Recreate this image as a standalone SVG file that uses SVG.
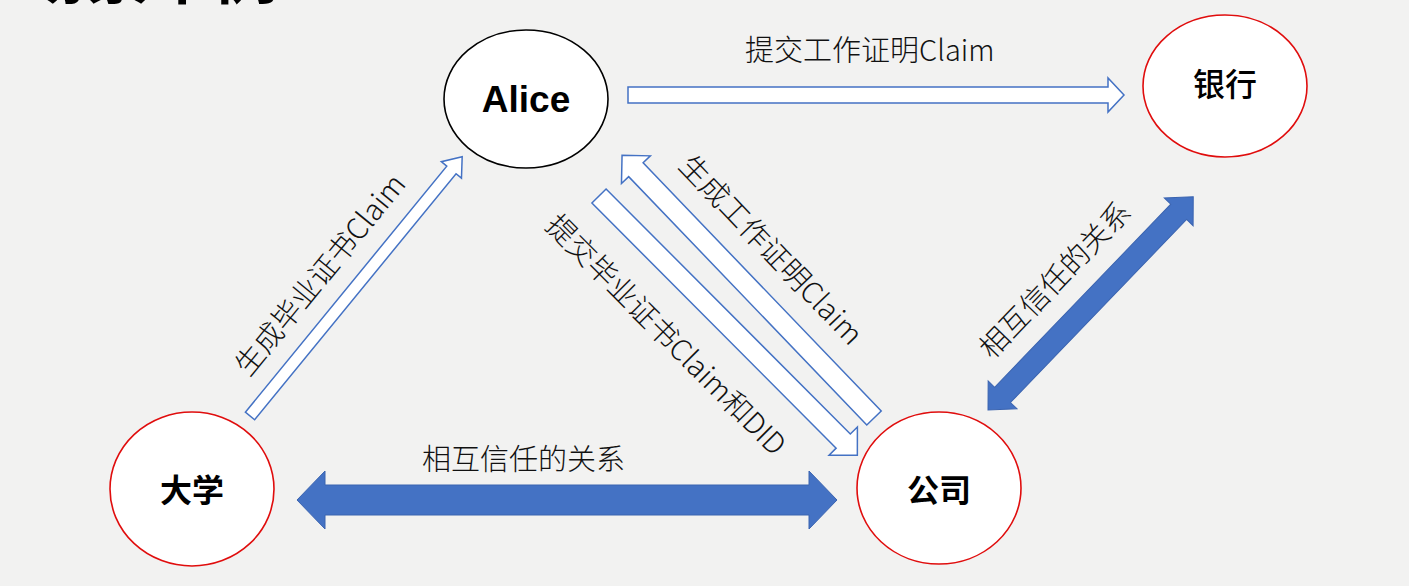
<svg xmlns="http://www.w3.org/2000/svg" width="1409" height="586" viewBox="0 0 1409 586">
  <style>
    .bg { fill: #f2f2f1; }
    .node { fill: #ffffff; stroke-width: 1.6; }
    .red { stroke: #e00d0d; }
    .blk { stroke: #000000; }
    .lbl { font-family: "Noto Sans CJK SC", "Liberation Sans", sans-serif; font-size: 29px; font-weight: 300; fill: #111111; }
    .name { font-family: "Noto Sans CJK SC", "Liberation Sans", sans-serif; font-size: 32px; font-weight: bold; fill: #000000; text-anchor: middle; }
    .hollow { fill: #ffffff; stroke: #4472c4; stroke-width: 1.5; stroke-linejoin: miter; }
    .solid { fill: #4472c4; stroke: #3b64b0; stroke-width: 1; }
  </style>
  <rect class="bg" x="0" y="0" width="1409" height="586"/>

  <text x="22" y="-2" style="font-family: 'Noto Sans CJK SC', sans-serif; font-size: 64px; font-weight: bold; fill: #000;">场景举例</text>

  <g id="connectors">
    <!-- Alice -> 银行 -->
    <polygon class="hollow" transform="translate(628,95)" points="0,-8 480,-8 480,-17 496,0 480,17 480,8 0,8"/>
    <!-- 大学 -> Alice -->
    <polygon class="hollow" transform="translate(250,416) rotate(-50.7)" points="0,-6 318,-6 318,-13 335,0 318,13 318,6 0,6"/>
    <!-- 公司 -> Alice -->
    <polygon class="hollow" transform="translate(874,418) rotate(-133.8)" points="0,-10 344,-10 344,-20 364,0 344,20 344,10 0,10"/>
    <!-- Alice -> 公司 -->
    <polygon class="hollow" transform="translate(599,196) rotate(45.1)" points="0,-10 346,-10 346,-20 366,0 346,20 346,10 0,10"/>
    <!-- 银行 <-> 公司 -->
    <polygon class="solid" transform="translate(988,410) rotate(-46.1)" points="0,0 21,-20 21,-11 275,-11 275,-20 296,0 275,20 275,11 21,11 21,20"/>
    <!-- 大学 <-> 公司 -->
    <polygon class="solid" transform="translate(297,500)" points="0,0 28,-29 28,-15 512,-15 512,-29 540,0 512,29 512,15 28,15 28,29"/>

    <text class="lbl" x="745" y="61">提交工作证明Claim</text>
    <text class="lbl" x="422" y="470">相互信任的关系</text>
    <text class="lbl" text-anchor="middle" dominant-baseline="central" transform="translate(318,273) rotate(-50.7)">生成毕业证书Claim</text>
    <text class="lbl" text-anchor="middle" dominant-baseline="central" transform="translate(773,248) rotate(46.2)">生成工作证明Claim</text>
    <text class="lbl" text-anchor="middle" dominant-baseline="central" transform="translate(668,333) rotate(45.1)">提交毕业证书Claim和DID</text>
    <text class="lbl" text-anchor="middle" dominant-baseline="central" transform="translate(1053,278) rotate(-46.1)">相互信任的关系</text>
  </g>

  <g id="alice">
    <ellipse class="node blk" cx="526" cy="99" rx="82" ry="69"/>
    <text x="526" y="112" text-anchor="middle" style="font-family: 'Liberation Sans', Arial, sans-serif; font-size: 37px; font-weight: bold; fill: #000;">Alice</text>
  </g>
  <g id="bank">
    <ellipse class="node red" cx="1225" cy="86" rx="82" ry="71"/>
    <text class="name" x="1225" y="96" style="font-weight: 500;">银行</text>
  </g>
  <g id="university">
    <ellipse class="node red" cx="192" cy="489" rx="82" ry="77"/>
    <text class="name" x="192" y="502">大学</text>
  </g>
  <g id="company">
    <ellipse class="node red" cx="939" cy="488" rx="82" ry="76"/>
    <text class="name" x="939" y="502">公司</text>
  </g>
</svg>
